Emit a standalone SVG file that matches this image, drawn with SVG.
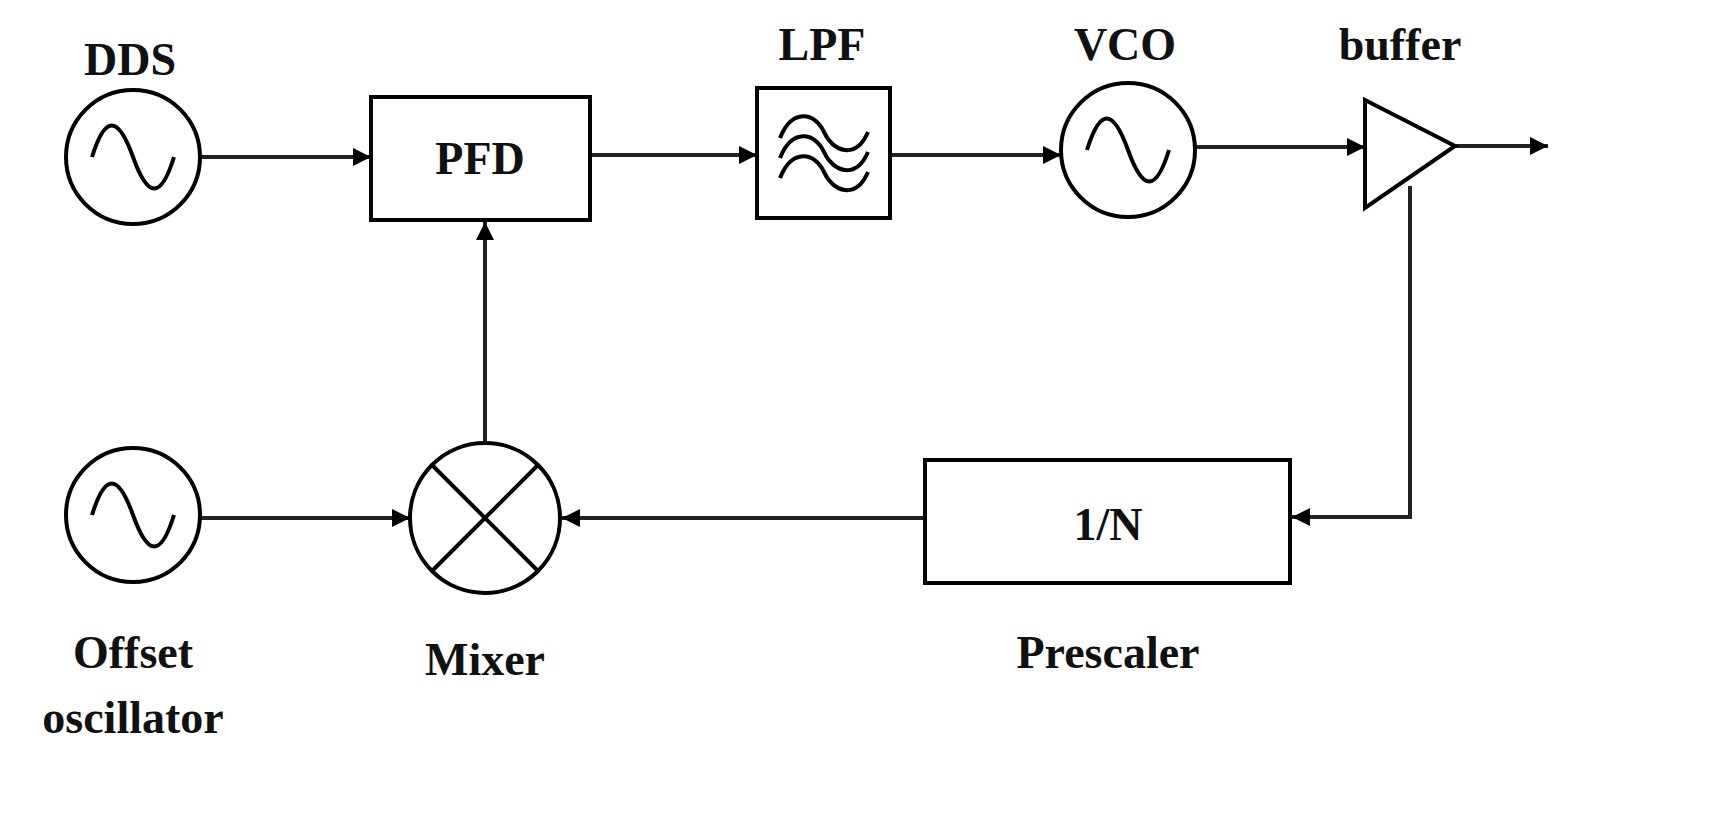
<svg xmlns="http://www.w3.org/2000/svg" width="1715" height="817" viewBox="0 0 1715 817">
<defs>
<style>
.s{fill:none;stroke:#000;stroke-width:4}
.l{fill:none;stroke:#222;stroke-width:4}
.t{font-family:"Liberation Serif",serif;font-weight:bold;font-size:46px;fill:#111;text-anchor:middle}
</style>
<marker id="b" viewBox="0 0 10 10" refX="10" refY="5" markerWidth="18" markerHeight="18" orient="auto" markerUnits="userSpaceOnUse"><path d="M0,0L10,5L0,10z" fill="#000"/></marker>
<path id="w" d="M780,138C792,108 815,112 824,132S856,160 868,132"/>
</defs>
<rect width="1715" height="817" fill="#fff"/>
<g id="connectors">
<path class="l" d="M200,157H371" marker-end="url(#b)"/>
<path class="l" d="M590,155H757" marker-end="url(#b)"/>
<path class="l" d="M890,155H1061" marker-end="url(#b)"/>
<path class="l" d="M1195,147H1365" marker-end="url(#b)"/>
<path class="l" d="M1455,146H1548" marker-end="url(#b)"/>
<path class="l" d="M1410,186V517H1292" marker-end="url(#b)"/>
<path class="l" d="M925,518H562" marker-end="url(#b)"/>
<path class="l" d="M200,518H410" marker-end="url(#b)"/>
<path class="l" d="M485,443V222" marker-end="url(#b)"/>
</g>
<g id="dds"><circle class="s" cx="133" cy="157" r="67"/><path class="s" d="M92,157C105,115 118,115 133,157S161,199 174,157"/><text class="t" x="130" y="75">DDS</text></g>
<g id="pfd"><rect class="s" x="371" y="97" width="219" height="123"/><text class="t" x="480" y="174">PFD</text></g>
<g id="lpf"><rect class="s" x="757" y="88" width="133" height="130"/>
<use href="#w" class="s"/><use href="#w" class="s" y="20"/><use href="#w" class="s" y="40"/>
<text class="t" x="822" y="60">LPF</text></g>
<g id="vco"><circle class="s" cx="1128" cy="150" r="67"/><path class="s" d="M1087,150C1100,108 1113,108 1128,150S1156,192 1169,150"/><text class="t" x="1125" y="60">VCO</text></g>
<g id="buffer"><path class="s" d="M1365,100L1455,146L1365,208Z"/><text class="t" x="1400" y="60">buffer</text></g>
<g id="prescaler"><rect class="s" x="925" y="460" width="365" height="123"/><text class="t" x="1108" y="540">1/N</text><text class="t" x="1108" y="668">Prescaler</text></g>
<g id="mixer"><circle class="s" cx="485" cy="518" r="75"/><path class="s" d="M432,465L538,571M538,465L432,571"/><text class="t" x="485" y="675">Mixer</text></g>
<g id="offset"><circle class="s" cx="133" cy="515" r="67"/><path class="s" d="M92,515C105,473 118,473 133,515S161,557 174,515"/><text class="t" x="133" y="668">Offset</text><text class="t" x="133" y="733">oscillator</text></g>
</svg>
